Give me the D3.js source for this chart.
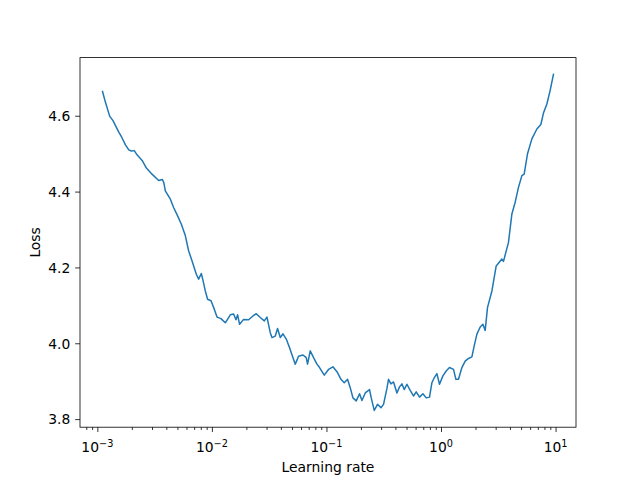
<!DOCTYPE html>
<html>
<head>
<meta charset="utf-8">
<script src="https://cdn.jsdelivr.net/npm/d3@7"></script>
<style>
  html, body { margin: 0; padding: 0; background: #fff; }
  svg { display: block; }
  text { font-family: "DejaVu Sans", sans-serif; }
</style>
</head>
<body>
<svg id="chart" width="640" height="480"></svg>
<script>
const learningRates = [
  1.11e-3, 1.17e-3, 1.28e-3, 1.37e-3, 1.44e-3, 1.53e-3, 1.64e-3, 1.76e-3, 1.88e-3, 1.98e-3,
  2.10e-3, 2.22e-3, 2.46e-3, 2.68e-3, 3.00e-3, 3.43e-3, 3.69e-3, 3.80e-3, 3.92e-3, 4.34e-3,
  4.63e-3, 5.02e-3, 5.41e-3, 5.86e-3, 6.26e-3, 6.71e-3, 7.31e-3, 7.66e-3, 8.08e-3, 8.36e-3,
  8.76e-3, 9.17e-3, 9.82e-3, 1.049e-2, 1.108e-2, 1.200e-2, 1.309e-2, 1.447e-2, 1.547e-2, 1.623e-2,
  1.676e-2, 1.745e-2, 1.891e-2, 2.090e-2, 2.284e-2, 2.440e-2, 2.644e-2, 2.866e-2, 3.026e-2, 3.232e-2,
  3.344e-2, 3.574e-2, 3.743e-2, 3.952e-2, 4.172e-2, 4.459e-2, 4.764e-2, 5.103e-2, 5.343e-2, 5.707e-2,
  6.234e-2, 6.660e-2, 6.838e-2, 7.219e-2, 7.716e-2, 8.262e-2, 8.705e-2, 9.568e-2, 0.1043, 0.1139,
  0.1235, 0.1338, 0.1430, 0.1528, 0.1613, 0.1703, 0.1820, 0.1945, 0.2041, 0.2181,
  0.2377, 0.2460, 0.2613, 0.2792, 0.2990, 0.3150, 0.3373, 0.3483, 0.3655, 0.3851,
  0.4124, 0.4345, 0.4559, 0.4775, 0.5040, 0.5385, 0.5754, 0.6075, 0.6493, 0.6953,
  0.7429, 0.7939, 0.8330, 0.8724, 0.9210, 0.9703, 1.039, 1.110, 1.186, 1.286,
  1.349, 1.421, 1.522, 1.626, 1.738, 1.861, 1.949, 2.058, 2.198, 2.321,
  2.431, 2.546, 2.782, 3.032, 3.400, 3.511, 3.882, 4.157, 4.441, 4.746,
  5.081, 5.321, 5.685, 6.213, 6.868, 7.442, 7.842, 8.398, 8.973, 9.587
];
const losses = [
  4.664, 4.638, 4.599, 4.587, 4.574, 4.558, 4.542, 4.523, 4.510, 4.507,
  4.508, 4.497, 4.482, 4.462, 4.446, 4.429, 4.432, 4.424, 4.402, 4.380,
  4.358, 4.336, 4.314, 4.284, 4.244, 4.217, 4.182, 4.169, 4.184, 4.166,
  4.138, 4.116, 4.112, 4.090, 4.069, 4.065, 4.054, 4.075, 4.077, 4.062,
  4.075, 4.050, 4.063, 4.062, 4.072, 4.078, 4.068, 4.059, 4.069, 4.028,
  4.015, 4.019, 4.039, 4.015, 4.025, 4.011, 3.988, 3.962, 3.945, 3.966,
  3.969, 3.962, 3.945, 3.980, 3.962, 3.945, 3.936, 3.916, 3.931, 3.938,
  3.925, 3.905, 3.896, 3.905, 3.883, 3.856, 3.848, 3.867, 3.849, 3.869,
  3.878, 3.856, 3.823, 3.839, 3.830, 3.839, 3.881, 3.905, 3.893, 3.898,
  3.869, 3.885, 3.893, 3.878, 3.892, 3.876, 3.861, 3.872, 3.858, 3.867,
  3.856, 3.858, 3.896, 3.909, 3.920, 3.892, 3.914, 3.927, 3.936, 3.931,
  3.905, 3.905, 3.936, 3.953, 3.960, 3.964, 3.993, 4.024, 4.043, 4.050,
  4.034, 4.094, 4.138, 4.204, 4.222, 4.216, 4.266, 4.341, 4.372, 4.411,
  4.442, 4.446, 4.499, 4.539, 4.565, 4.577, 4.607, 4.631, 4.667, 4.709
];
const xMajorExponents = [-3, -2, -1, 0, 1];
const yTickValues = [3.8, 4.0, 4.2, 4.4, 4.6];
const xLabel = "Learning rate";
const yLabel = "Loss";

(function () {
const W = 640, H = 480;
const mLeft = 80, mRight = 576, mTop = 57.6, mBottom = 427.2;
const fontPx = 13.89;
const majorLen = 4.86, minorLen = 2.78, pad = 4.86;

const svg = d3.select("#chart");
svg.append("rect").attr("width", W).attr("height", H).attr("fill", "#fff");

const data = learningRates.map((lr, i) => ({ lr, loss: losses[i] }));

// matplotlib-style 5% margins
const lxExt = d3.extent(learningRates.map(Math.log10));
const lxSpan = lxExt[1] - lxExt[0];
const x = d3.scaleLog()
  .domain([Math.pow(10, lxExt[0] - 0.05 * lxSpan), Math.pow(10, lxExt[1] + 0.05 * lxSpan)])
  .range([mLeft, mRight]);
const yExt = d3.extent(losses);
const ySpan = yExt[1] - yExt[0];
const y = d3.scaleLinear()
  .domain([yExt[0] - 0.05 * ySpan, yExt[1] + 0.05 * ySpan])
  .range([mBottom, mTop]);

// line
svg.append("clipPath").attr("id", "clip").append("rect")
  .attr("x", mLeft).attr("y", mTop).attr("width", mRight - mLeft).attr("height", mBottom - mTop);
svg.append("path")
  .datum(data)
  .attr("clip-path", "url(#clip)")
  .attr("fill", "none")
  .attr("stroke", "#1f77b4")
  .attr("stroke-width", 1.5)
  .attr("stroke-linejoin", "round")
  .attr("stroke-linecap", "square")
  .attr("d", d3.line().x(d => x(d.lr)).y(d => y(d.loss)));

// x ticks
const majorVals = xMajorExponents.map(e => Math.pow(10, e));
const dom = x.domain();
const minorVals = [];
for (let e = Math.floor(Math.log10(dom[0])); e <= Math.ceil(Math.log10(dom[1])); e++) {
  for (let m = 2; m <= 9; m++) {
    const v = m * Math.pow(10, e);
    if (v >= dom[0] && v <= dom[1]) minorVals.push(v);
  }
}
const gxMinor = svg.append("g").attr("transform", `translate(0,${mBottom})`)
  .call(d3.axisBottom(x).tickValues(minorVals).tickSize(minorLen).tickFormat(() => ""));
const gxMajor = svg.append("g").attr("transform", `translate(0,${mBottom})`)
  .call(d3.axisBottom(x).tickValues(majorVals).tickSize(majorLen).tickFormat(() => ""));
[gxMinor, gxMajor].forEach(g => {
  g.select(".domain").remove();
  g.selectAll(".tick line").attr("stroke", "#000").attr("stroke-width", 0.8);
});

// x tick labels with superscripts
const xl = svg.append("g");
xMajorExponents.forEach(e => {
  const t = xl.append("text")
    .attr("x", x(Math.pow(10, e)))
    .attr("y", mBottom + majorLen + pad + 15.5)
    .attr("text-anchor", "middle")
    .attr("font-size", fontPx)
    .attr("fill", "#000");
  t.append("tspan").text("10");
  t.append("tspan")
    .attr("dy", -5.6)
    .attr("font-size", fontPx * 0.7)
    .text(e < 0 ? "\u2212" + Math.abs(e) : String(e));
});

// y axis
const gy = svg.append("g").attr("transform", `translate(${mLeft},0)`)
  .call(d3.axisLeft(y).tickValues(yTickValues).tickSize(majorLen).tickPadding(pad).tickFormat(d3.format(".1f")));
gy.select(".domain").remove();
gy.selectAll(".tick line").attr("stroke", "#000").attr("stroke-width", 0.8);
gy.selectAll(".tick text")
  .attr("font-size", fontPx)
  .attr("font-family", "DejaVu Sans, sans-serif")
  .attr("fill", "#000")
  .attr("dy", "0.35em");

// frame
svg.append("rect")
  .attr("x", mLeft).attr("y", mTop)
  .attr("width", mRight - mLeft).attr("height", mBottom - mTop)
  .attr("fill", "none").attr("stroke", "#000").attr("stroke-width", 0.8);

// axis labels
svg.append("text")
  .attr("x", (mLeft + mRight) / 2)
  .attr("y", 472)
  .attr("text-anchor", "middle")
  .attr("font-size", fontPx)
  .attr("fill", "#000")
  .text(xLabel);
svg.append("text")
  .attr("transform", `translate(40,${(mTop + mBottom) / 2}) rotate(-90)`)
  .attr("text-anchor", "middle")
  .attr("font-size", fontPx)
  .attr("fill", "#000")
  .text(yLabel);
})();
</script>
</body>
</html>
